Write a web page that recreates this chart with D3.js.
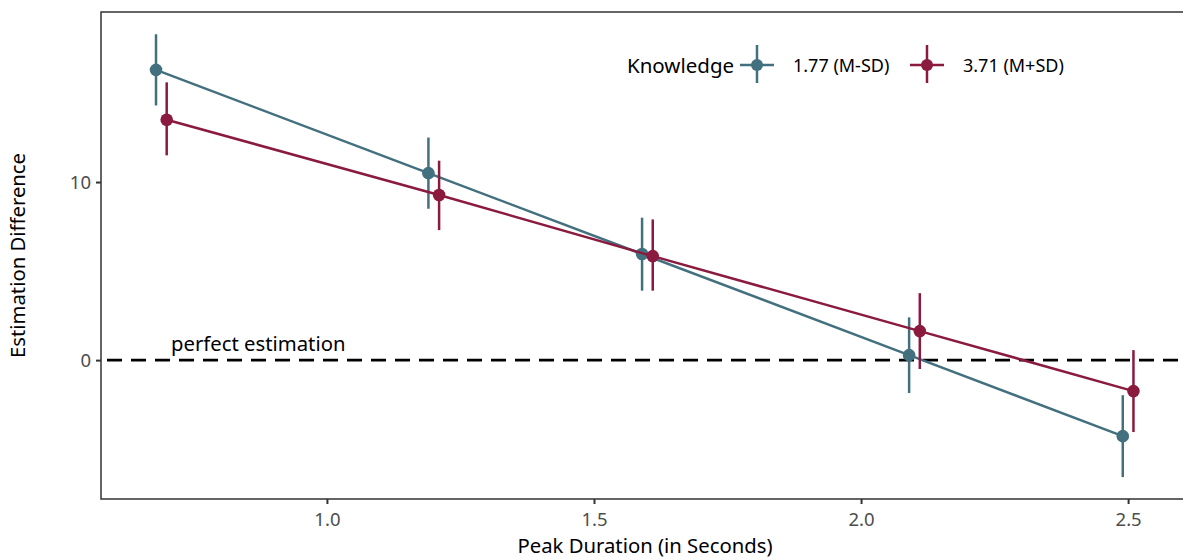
<!DOCTYPE html>
<html><head><meta charset="utf-8">
<script src="https://cdn.jsdelivr.net/npm/d3@7"></script>
<style>body{margin:0;background:#fff}svg{display:block;font-family:"Noto Sans",sans-serif}</style>
</head><body><svg id="c" width="1183" height="560"></svg>
<script>
const durations = [0.69, 1.2, 1.6, 2.1, 2.5];
const groups = ["1.77 (M-SD)", "3.71 (M+SD)"];
const colors = ["#43707f", "#8a1a3e"];
const lowMean = [16.3, 10.5, 5.96, 0.28, -4.27];
const lowLo = [14.3, 8.5, 3.9, -1.85, -6.57];
const lowHi = [18.3, 12.5, 8.0, 2.4, -1.97];
const highMean = [13.5, 9.27, 5.84, 1.63, -1.74];
const highLo = [11.5, 7.3, 3.9, -0.5, -4.04];
const highHi = [15.6, 11.2, 7.9, 3.76, 0.56];
const xTicks = [1.0, 1.5, 2.0, 2.5];
const yTicks = [0, 10];
const dodge = [-0.01, 0.01];

const FONT = "'Noto Sans', sans-serif";
const svg = d3.select("#c");
const L = 101, T = 12, R = 1189, B = 499;
const x = d3.scaleLinear().domain([0.577, 2.614]).range([L, R]);
const y = d3.scaleLinear().domain([-7.8, 19.55]).range([B, T]);

// axes
const xa = svg.append("g").attr("transform", `translate(0,${B})`)
  .call(d3.axisBottom(x).tickValues(xTicks).tickFormat(d3.format(".1f")).tickSize(5).tickSizeOuter(0));
const ya = svg.append("g").attr("transform", `translate(${L},0)`)
  .call(d3.axisLeft(y).tickValues(yTicks).tickFormat(d3.format("d")).tickSize(5).tickSizeOuter(0));
[xa, ya].forEach(a => {
  a.select(".domain").remove();
  a.selectAll(".tick line").attr("stroke", "#333").attr("stroke-width", 2);
  a.selectAll(".tick text").attr("fill", "#4d4d4d").attr("font-size", 18.5).attr("font-family", FONT);
});
xa.selectAll(".tick text").attr("dy", "1.0em");
ya.selectAll(".tick text").attr("dx", "-2px").attr("dy", "0.35em");

// panel borders (top, left, bottom)
svg.append("path").attr("d", `M${R},${T}H${L}V${B}H${R}`).attr("fill", "none").attr("stroke", "#333").attr("stroke-width", 1.5);

// reference line
svg.append("line").attr("x1", L).attr("x2", R).attr("y1", y(0)).attr("y2", y(0))
  .attr("stroke", "#000").attr("stroke-width", 2.8).attr("stroke-dasharray", "15,9").attr("stroke-dashoffset", -6);
svg.append("text").attr("x", 171).attr("y", y(0) - 9).attr("font-size", 20.3).attr("fill", "#000").text("perfect estimation");

// series
const series = [
  {name: groups[0], color: colors[0], m: lowMean, lo: lowLo, hi: lowHi, d: dodge[0]},
  {name: groups[1], color: colors[1], m: highMean, lo: highLo, hi: highHi, d: dodge[1]}
];
const line = d3.line().x(d => x(d[0])).y(d => y(d[1]));
series.forEach(s => {
  const pts = durations.map((v, i) => [v + s.d, s.m[i], s.lo[i], s.hi[i]]);
  svg.append("path").datum(pts).attr("d", line).attr("fill", "none").attr("stroke", s.color).attr("stroke-width", 2.5);
  svg.append("g").selectAll("line").data(pts).join("line")
    .attr("x1", d => x(d[0])).attr("x2", d => x(d[0])).attr("y1", d => y(d[2])).attr("y2", d => y(d[3]))
    .attr("stroke", s.color).attr("stroke-width", 2.5);
  svg.append("g").selectAll("circle").data(pts).join("circle")
    .attr("cx", d => x(d[0])).attr("cy", d => y(d[1])).attr("r", 6.3).attr("fill", s.color);
});

// legend
const lg = svg.append("g");
lg.append("text").attr("x", 627).attr("y", 73).attr("font-size", 20.5).text("Knowledge");
const keyX = [757, 927];
series.forEach((s, i) => {
  const cx = keyX[i], cy = 65;
  lg.append("line").attr("x1", cx - 17).attr("x2", cx + 17).attr("y1", cy).attr("y2", cy).attr("stroke", s.color).attr("stroke-width", 2.5);
  lg.append("line").attr("x1", cx).attr("x2", cx).attr("y1", cy - 20).attr("y2", cy + 18).attr("stroke", s.color).attr("stroke-width", 2.5);
  lg.append("circle").attr("cx", cx).attr("cy", cy).attr("r", 6).attr("fill", s.color);
  lg.append("text").attr("x", cx + 36).attr("y", 72).attr("font-size", 18).text(s.name);
});

// axis titles
svg.append("text").attr("x", (L + R) / 2).attr("y", 553).attr("text-anchor", "middle").attr("font-size", 20.3).text("Peak Duration (in Seconds)");
svg.append("text").attr("transform", `translate(25,${(T + B) / 2}) rotate(-90)`).attr("text-anchor", "middle").attr("font-size", 20.3).text("Estimation Difference");
</script></body></html>
